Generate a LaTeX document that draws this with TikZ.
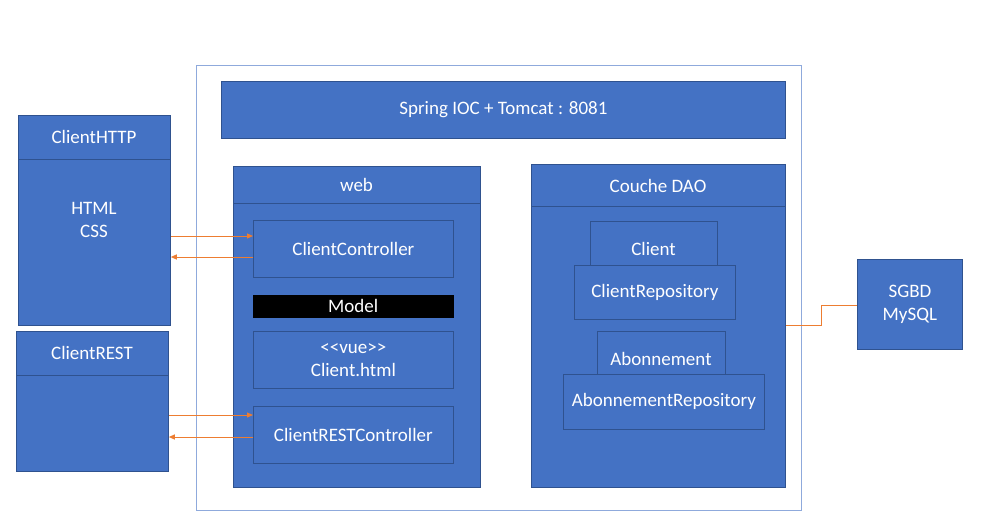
\documentclass[tikz,border=0pt]{standalone}
\usepackage{fontspec}
\setmainfont{Carlito}
\usetikzlibrary{arrows.meta}
\definecolor{boxfill}{HTML}{4472C4}
\definecolor{boxline}{HTML}{2F528F}
\definecolor{frameline}{HTML}{8FAADC}
\definecolor{conn}{HTML}{ED7D31}
\begin{document}
\begin{tikzpicture}[x=1pt,y=-1pt,
  lbl/.style={text=white, font=\fontsize{19}{23}\selectfont, align=center, inner sep=0pt},
  box/.style={lbl, draw=boxline, fill=boxfill, line width=0.8pt},
  sep/.style={draw=boxline, line width=0.8pt},
  link/.style={draw=conn, line width=1pt},
  tip/.style={-{Triangle[length=6pt,width=5pt]}}
]
\useasboundingbox (0,0) rectangle (992,525);
\fill[white] (0,0) rectangle (992,525);
% outer frame
\node[draw=frameline, line width=0.8pt, minimum width=605pt, minimum height=445pt, anchor=north west, inner sep=0pt] (frame) at (196,65) {};
% Spring bar
\node[box, minimum width=564pt, minimum height=57pt, anchor=north west] (spring) at (221,81) {Spring IOC + Tomcat : 8081};
% ClientHTTP
\node[box, minimum width=152pt, minimum height=210pt, anchor=north west] (http) at (18,115) {};
\draw[sep] (18,159) -- (170,159);
\node[lbl] (httpT) at (94,137) {ClientHTTP};
\node[lbl] (httpB) at (94,220) {HTML\\CSS};
% ClientREST
\node[box, minimum width=152pt, minimum height=140pt, anchor=north west] (rest) at (16,331) {};
\draw[sep] (16,375) -- (168,375);
\node[lbl] (restT) at (92,353) {ClientREST};
% web
\node[box, minimum width=247pt, minimum height=321pt, anchor=north west] (web) at (233,166) {};
\draw[sep] (233,203) -- (480,203);
\node[lbl] (webT) at (356.5,185) {web};
\node[box, minimum width=200pt, minimum height=57pt, anchor=north west] (cc) at (253,220) {ClientController};
\node[lbl, draw=black, fill=black, minimum width=200pt, minimum height=22pt, anchor=north west] (model) at (253,295) {Model};
\node[box, minimum width=200pt, minimum height=57pt, anchor=north west] (vue) at (253,331) {<{}<vue>{}>\\Client.html};
\node[box, minimum width=200pt, minimum height=57pt, anchor=north west] (rc) at (253,406) {ClientRESTController};
% DAO
\node[box, minimum width=254pt, minimum height=323pt, anchor=north west] (dao) at (531,164) {};
\draw[sep] (531,206) -- (785,206);
\node[lbl] (daoT) at (658,186) {Couche DAO};
\node[box, minimum width=127pt, minimum height=44pt, anchor=north west] (client) at (590,221) {};
\node[lbl] (clientT) at (653.5,249) {Client};
\node[box, minimum width=161pt, minimum height=54pt, anchor=north west] (crepo) at (574,265) {ClientRepository};
\node[box, minimum width=128pt, minimum height=44pt, anchor=north west] (abo) at (597,331) {};
\node[lbl] (aboT) at (661,359) {Abonnement};
\node[box, minimum width=201pt, minimum height=55pt, anchor=north west] (arepo) at (563,374) {AbonnementRepository};
% SGBD
\node[box, minimum width=105pt, minimum height=90pt, anchor=north west] (sgbd) at (857,259) {SGBD\\MySQL};
% connectors
\draw[link, tip] (http.east |- 0,236) -- (cc.west |- 0,236);
\draw[link, tip] (cc.west |- 0,257) -- (http.east |- 0,257);
\draw[link, tip] (rest.east |- 0,415) -- (rc.west |- 0,415);
\draw[link, tip] (rc.west |- 0,437) -- (rest.east |- 0,437);
\coordinate (j1) at (821,325);
\coordinate (j2) at (821,305);
\draw[link] (dao.east |- j1) -- (j1) -- (j2) -- (sgbd.west |- j2);
\end{tikzpicture}
\end{document}
